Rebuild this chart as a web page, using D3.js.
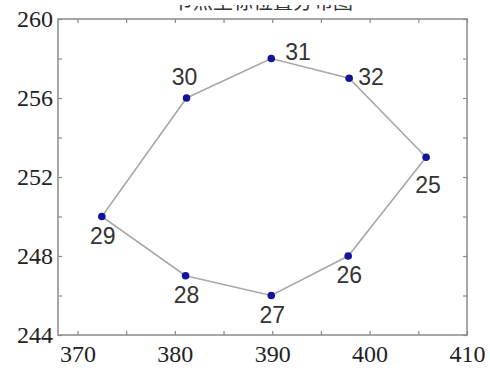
<!DOCTYPE html>
<html>
<head>
<meta charset="utf-8">
<script src="https://cdn.jsdelivr.net/npm/d3@7"></script>
<style>
  html, body { margin: 0; padding: 0; background: #fff; }
  svg { display: block; }
</style>
</head>
<body>
<svg id="chart" width="490" height="368"></svg>
<script>
// Node ids and their coordinates, in the order the route visits them
const nodeIds = ["25", "26", "27", "28", "29", "30", "31", "32"];
const nodeX = [405.8, 397.8, 389.9, 381.1, 372.5, 381.2, 389.9, 397.9];
const nodeY = [253.0, 248.0, 246.0, 247.0, 250.0, 256.0, 258.0, 257.0];
// Side of each node its id is written on
const labelSide = ["belowFar", "below", "below", "below", "below", "above", "right", "rightLow"];

// Axis ticks
const xTickLabels = [370, 380, 390, 400, 410];
const xMinorTicks = [370, 375, 380, 385, 390, 395, 400, 405, 410];
const yTickLabels = [244, 248, 252, 256, 260];
const yMinorTicks = [244, 246, 248, 250, 252, 254, 256, 258, 260];
const titleText = "节点坐标位置分布图";

const svg = d3.select("#chart");
const plotL = 58, plotR = 467, plotT = 19, plotB = 335;

const x = d3.scaleLinear().domain([368, 410]).range([plotL, plotR]);
const y = d3.scaleLinear().domain([244, 260]).range([plotB, plotT]);

// Title: only the lower edge of it falls inside the frame of the page
svg.append("defs").append("clipPath").attr("id", "titleClip")
  .append("rect").attr("x", 0).attr("y", 5).attr("width", 490).attr("height", 13);
svg.append("text")
  .attr("clip-path", "url(#titleClip)")
  .attr("x", 263).attr("y", 9)
  .attr("text-anchor", "middle")
  .style("font-family", "'Noto Sans CJK SC'")
  .style("font-size", "20px")
  .attr("fill", "#333")
  .text(titleText);

// Axes with inward ticks
const tickLen = 4;
const axisColor = "#8a8a8a";
const tickFont = "'Liberation Serif', 'Times New Roman', serif";

function styleAxis(g) {
  g.select(".domain").remove();
  g.selectAll(".tick line").attr("stroke", axisColor).attr("stroke-width", 1.2);
}

svg.append("g").attr("transform", `translate(0,${plotB})`)
  .call(d3.axisTop(x).tickValues(xMinorTicks).tickSize(tickLen).tickFormat(""))
  .call(styleAxis);
svg.append("g").attr("transform", `translate(0,${plotT})`)
  .call(d3.axisBottom(x).tickValues(xMinorTicks).tickSize(tickLen).tickFormat(""))
  .call(styleAxis);
svg.append("g").attr("transform", `translate(${plotL},0)`)
  .call(d3.axisRight(y).tickValues(yMinorTicks).tickSize(tickLen).tickFormat(""))
  .call(styleAxis);
svg.append("g").attr("transform", `translate(${plotR},0)`)
  .call(d3.axisLeft(y).tickValues(yMinorTicks).tickSize(tickLen).tickFormat(""))
  .call(styleAxis);

// Tick labels
const xLab = svg.append("g").attr("transform", `translate(0,${plotB})`)
  .call(d3.axisBottom(x).tickValues(xTickLabels).tickSize(0).tickPadding(10).tickFormat(d3.format("d")));
xLab.select(".domain").remove();
xLab.selectAll("text")
  .style("font-family", tickFont).style("font-size", "24px").attr("fill", "#222");

const yLab = svg.append("g").attr("transform", `translate(${plotL},0)`)
  .call(d3.axisLeft(y).tickValues(yTickLabels).tickSize(0).tickPadding(5).tickFormat(d3.format("d")));
yLab.select(".domain").remove();
yLab.selectAll("text")
  .style("font-family", tickFont).style("font-size", "24px").attr("fill", "#222")
  .attr("dy", "0.3em");

// Frame
svg.append("rect")
  .attr("x", plotL).attr("y", plotT)
  .attr("width", plotR - plotL).attr("height", plotB - plotT)
  .attr("fill", "none").attr("stroke", axisColor).attr("stroke-width", 1.5);

// Closed route through the nodes
const pts = nodeIds.map((id, i) => ({ id, x: nodeX[i], y: nodeY[i], side: labelSide[i] }));
const line = d3.line().x(d => x(d.x)).y(d => y(d.y)).curve(d3.curveLinearClosed);
svg.append("path")
  .datum(pts)
  .attr("d", line)
  .attr("fill", "none")
  .attr("stroke", "#a8a8a8")
  .attr("stroke-width", 1.6);

// Node markers
svg.append("g").selectAll("circle")
  .data(pts).join("circle")
  .attr("cx", d => x(d.x)).attr("cy", d => y(d.y))
  .attr("r", 3.8)
  .attr("fill", "#14149a");

// Node ids
const offsets = {
  below:    { dx: 1,  dy: 27, anchor: "middle" },
  belowFar: { dx: 2,  dy: 36, anchor: "middle" },
  above:    { dx: -2, dy: -13, anchor: "middle" },
  right:    { dx: 14, dy: 1,  anchor: "start" },
  rightLow: { dx: 9,  dy: 7,  anchor: "start" }
};
svg.append("g").selectAll("text")
  .data(pts).join("text")
  .attr("x", d => x(d.x) + offsets[d.side].dx)
  .attr("y", d => y(d.y) + offsets[d.side].dy)
  .attr("text-anchor", d => offsets[d.side].anchor)
  .style("font-family", "'Liberation Sans', Arial, sans-serif")
  .style("font-size", "23px")
  .attr("fill", "#333")
  .text(d => d.id);
</script>
</body>
</html>
